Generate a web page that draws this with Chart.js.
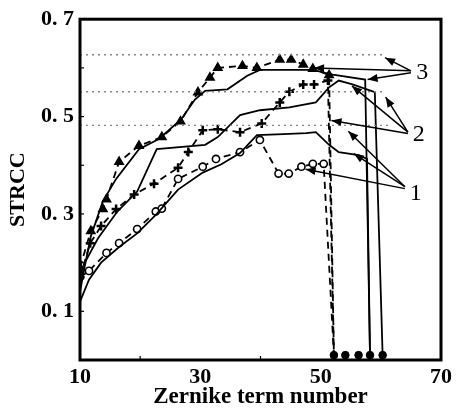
<!DOCTYPE html>
<html>
<head>
<meta charset="utf-8">
<script src="https://cdn.jsdelivr.net/npm/chart.js@4.4.1/dist/chart.umd.min.js"></script>
<style>
  body { margin: 0; background: #fff; }
  #wrap { width: 456px; height: 411px; }
</style>
</head>
<body>
<div id="wrap"><canvas id="strccChart" width="456" height="411"></canvas></div>
<script>
// group 3 : dashed with triangles + solid
const tri3X = [10, 11.8, 13.8, 14.4, 16.5, 19.8, 23.6, 26.7, 29.6, 31.6, 32.9, 37.0, 39.4, 43.2, 45.1, 47.1, 48.7, 51.4, 52.2];
const tri3Y = [0.19, 0.265, 0.31, 0.33, 0.407, 0.44, 0.458, 0.49, 0.55, 0.58, 0.60, 0.604, 0.60, 0.617, 0.617, 0.607, 0.598, 0.585, 0.01];
const sol3X = [10, 10.8, 11.8, 13.8, 16.0, 19.8, 23.1, 26.8, 29.1, 30.8, 34.5, 37.8, 39.9, 48.7, 52.0, 57.4, 58.2];
const sol3Y = [0.14, 0.193, 0.254, 0.326, 0.372, 0.433, 0.454, 0.494, 0.535, 0.553, 0.556, 0.584, 0.596, 0.596, 0.586, 0.576, 0.01];

// group 2 : dashed with crosses + solid
const plus2X = [10, 11.7, 13.5, 16.0, 19.0, 22.3, 26.3, 28.0, 30.4, 32.9, 36.6, 40.2, 43.2, 44.8, 47.1, 48.9, 51.2, 52.2];
const plus2Y = [0.17, 0.24, 0.275, 0.31, 0.34, 0.362, 0.395, 0.427, 0.472, 0.474, 0.468, 0.486, 0.529, 0.551, 0.566, 0.566, 0.574, 0.01];
const sol2X = [10, 10.8, 13.0, 16.2, 19.5, 22.75, 30.8, 32.9, 36.6, 39.9, 44.8, 49.2, 51.4, 53.0, 55.3, 59.0, 60.3];
const sol2Y = [0.15, 0.2, 0.25, 0.305, 0.346, 0.433, 0.442, 0.458, 0.503, 0.513, 0.519, 0.529, 0.56, 0.574, 0.566, 0.55, 0.01];

// group 1 : dashed with circles + solid
const circ1X = [10, 11.5, 14.4, 16.5, 19.5, 22.6, 23.6, 26.3, 30.4, 32.6, 36.6, 39.9, 43.0, 44.7, 46.8, 48.7, 50.5, 52.2];
const circ1Y = [0.17, 0.183, 0.22, 0.24, 0.269, 0.305, 0.311, 0.372, 0.397, 0.413, 0.427, 0.452, 0.383, 0.383, 0.397, 0.403, 0.403, 0.01];
const sol1X = [10, 11.5, 13.5, 16.5, 19.5, 22.6, 26.3, 30.4, 33.5, 36.6, 39.4, 43.8, 47.6, 49.2, 51.4, 53.0, 56.3, 57.7, 58.2];
const sol1Y = [0.12, 0.165, 0.2, 0.232, 0.26, 0.298, 0.35, 0.385, 0.402, 0.425, 0.462, 0.464, 0.466, 0.468, 0.442, 0.427, 0.421, 0.413, 0.01];

// end points on the axis
const endX = [52.2, 54.1, 56.3, 58.2, 60.3];
const endY = [0.01, 0.01, 0.01, 0.01, 0.01];

// dotted limit levels
const limitY = [0.627, 0.551, 0.482];
const limitEndX = [60.7, 60.7, 61.2];

const xTicks = [10, 30, 50, 70];
const yTicks = [0.1, 0.3, 0.5, 0.7];
const xMinor = [20, 40, 60];
const yMinor = [0.2, 0.4, 0.6];

// curve labels and their pointer arrows [x0, y0, x1, y1]
const groupNames = ['3', '2', '1'];
const groupLabelX = [66.9, 66.3, 65.8];
const groupLabelY = [0.59, 0.462, 0.342];
const groupArrows = [
  [[65.0, 0.594, 60.7, 0.621], [65.0, 0.594, 48.9, 0.600], [65.0, 0.590, 57.8, 0.576]],
  [[64.5, 0.468, 60.8, 0.540], [64.5, 0.468, 55.2, 0.563], [64.5, 0.465, 51.8, 0.492]],
  [[64.0, 0.356, 54.6, 0.470], [64.0, 0.356, 55.5, 0.424], [64.0, 0.352, 47.5, 0.392]]
];

function pts(xs, ys) {
  return xs.map((v, i) => ({x: v, y: ys[i]}));
}
function noLast(ctx, r) {
  return ctx.dataIndex === ctx.dataset.data.length - 1 ? 0 : r;
}

const serif = "'Liberation Serif', 'DejaVu Serif', serif";

const datasets = [];
limitY.forEach((lv, i) => {
  datasets.push({
    data: pts([10, limitEndX[i]], [lv, lv]),
    borderColor: '#888', borderWidth: 1.4, borderDash: [2, 4],
    pointRadius: 0
  });
});
datasets.push({
  data: pts(sol3X, sol3Y), borderColor: '#000', borderWidth: 1.8, pointRadius: 0
});
datasets.push({
  data: pts(sol2X, sol2Y), borderColor: '#000', borderWidth: 1.8, pointRadius: 0
});
datasets.push({
  data: pts(sol1X, sol1Y), borderColor: '#000', borderWidth: 1.8, pointRadius: 0
});
datasets.push({
  data: pts(tri3X, tri3Y), borderColor: '#000', borderWidth: 1.8, borderDash: [7, 5],
  pointStyle: 'triangle', pointRadius: c => noLast(c, 4.5),
  pointBackgroundColor: '#000', pointBorderColor: '#000'
});
datasets.push({
  data: pts(plus2X, plus2Y), borderColor: '#000', borderWidth: 1.8, borderDash: [7, 5],
  pointStyle: 'cross', pointRadius: c => noLast(c, 4.5), pointBorderWidth: 2.5,
  pointBorderColor: '#000'
});
datasets.push({
  data: pts(circ1X, circ1Y), borderColor: '#000', borderWidth: 1.8, borderDash: [7, 5],
  pointStyle: 'circle', pointRadius: c => noLast(c, 3.6), pointBorderWidth: 1.6,
  pointBackgroundColor: '#fff', pointBorderColor: '#000'
});
datasets.push({
  data: pts(endX, endY), showLine: false,
  pointStyle: 'circle', pointRadius: 3.8,
  pointBackgroundColor: '#000', pointBorderColor: '#000'
});

const framePlugin = {
  id: 'frame',
  afterDraw(chart) {
    const {ctx, chartArea: a, scales: {x, y}} = chart;
    ctx.save();
    ctx.strokeStyle = '#000';
    ctx.fillStyle = '#000';
    ctx.lineWidth = 3;
    ctx.strokeRect(a.left, a.top, a.right - a.left, a.bottom - a.top);

    ctx.lineWidth = 1.2;
    xMinor.forEach(v => {
      const px = x.getPixelForValue(v);
      ctx.beginPath(); ctx.moveTo(px, a.bottom); ctx.lineTo(px, a.bottom - 4); ctx.stroke();
    });
    yMinor.concat(yTicks).forEach(v => {
      const py = y.getPixelForValue(v);
      ctx.beginPath(); ctx.moveTo(a.left, py); ctx.lineTo(a.left + 4, py); ctx.stroke();
    });

    ctx.lineWidth = 1.5;
    groupArrows.forEach(list => {
      list.forEach(ar => {
        const x0 = x.getPixelForValue(ar[0]), y0 = y.getPixelForValue(ar[1]);
        const x1 = x.getPixelForValue(ar[2]), y1 = y.getPixelForValue(ar[3]);
        ctx.beginPath(); ctx.moveTo(x0, y0); ctx.lineTo(x1, y1); ctx.stroke();
        const ang = Math.atan2(y1 - y0, x1 - x0);
        const len = 10, w = 4;
        ctx.beginPath();
        ctx.moveTo(x1, y1);
        ctx.lineTo(x1 - len * Math.cos(ang) + w * Math.sin(ang), y1 - len * Math.sin(ang) - w * Math.cos(ang));
        ctx.lineTo(x1 - len * Math.cos(ang) - w * Math.sin(ang), y1 - len * Math.sin(ang) + w * Math.cos(ang));
        ctx.closePath(); ctx.fill();
      });
    });

    ctx.font = '24px ' + serif;
    ctx.textAlign = 'center';
    ctx.textBaseline = 'middle';
    groupNames.forEach((t, i) => {
      ctx.fillText(t, x.getPixelForValue(groupLabelX[i]), y.getPixelForValue(groupLabelY[i]));
    });
    ctx.restore();
  }
};

const config = {
  type: 'line',
  data: { datasets: datasets },
  options: {
    responsive: false,
    animation: false,
    layout: { padding: { top: 16, right: 9, left: 0, bottom: 0 } },
    plugins: { legend: { display: false }, tooltip: { enabled: false } },
    scales: {
      x: {
        type: 'linear', min: 10, max: 70,
        afterBuildTicks: s => { s.ticks = xTicks.map(v => ({value: v})); },
        afterFit: s => { s.height = 51; },
        grid: { display: false, drawTicks: false },
        border: { display: false },
        ticks: { color: '#000', padding: 4, maxRotation: 0,
                 font: { family: serif, size: 22, weight: 'bold' } },
        title: { display: true, text: 'Zernike term number', color: '#000', padding: 0,
                 font: { family: serif, size: 23, weight: 'bold' } }
      },
      y: {
        min: 0, max: 0.7,
        afterBuildTicks: s => { s.ticks = yTicks.map(v => ({value: v})); },
        afterFit: s => { s.width = 80; },
        grid: { display: false, drawTicks: false },
        border: { display: false },
        ticks: { color: '#000', padding: 6,
                 font: { family: serif, size: 22, weight: 'bold' },
                 callback: v => v.toFixed(1).replace('.', '. ') },
        title: { display: true, text: 'STRCC', color: '#000', padding: { top: 5, bottom: 0 },
                 font: { family: serif, size: 22, weight: 'bold' } }
      }
    }
  },
  plugins: [framePlugin]
};

var ctx = document.getElementById('strccChart');
var myChart = new Chart(ctx, config);
</script>
</body>
</html>
